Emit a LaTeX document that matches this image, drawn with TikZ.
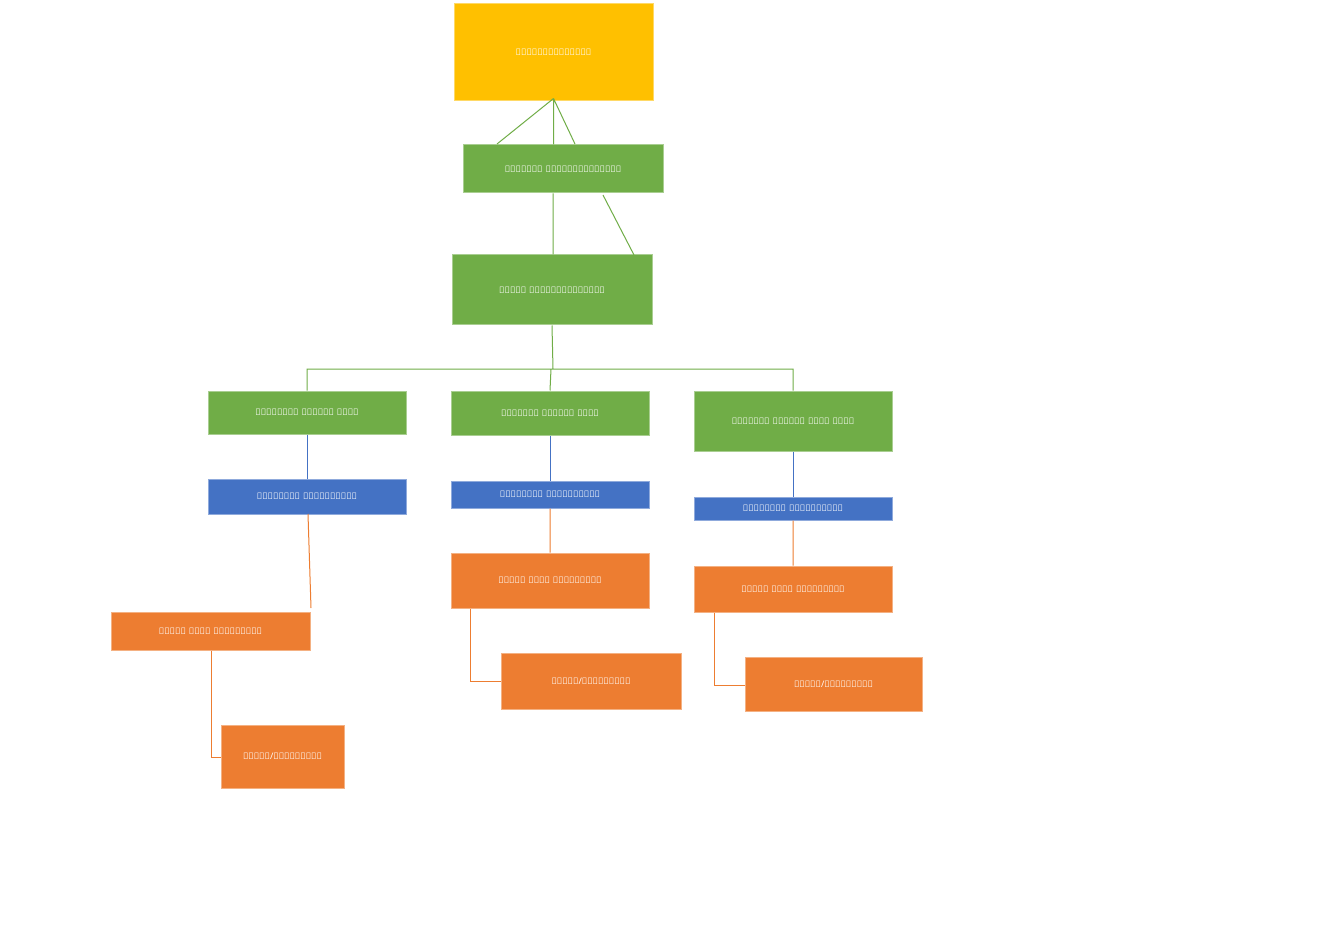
\documentclass[tikz,border=0pt]{standalone}
\usepackage{fontspec}
\setmainfont{Noto Sans}
\begin{document}
\begin{tikzpicture}[x=1pt,y=-1pt,
  box/.style={draw=#1!60!white,line width=1pt,fill=#1,text=white,font=\small,inner sep=0pt,align=center,text width=180pt},
  gline/.style={draw=green!50!black!60!lime,color={rgb,255:red,112;green,173;blue,71},line width=1pt},
  bline/.style={color={rgb,255:red,68;green,114;blue,196},line width=1pt},
  oline/.style={color={rgb,255:red,237;green,125;blue,49},line width=1pt}]
\definecolor{gold}{RGB}{255,192,0}
\definecolor{grn}{RGB}{112,173,71}
\definecolor{blu}{RGB}{68,114,196}
\definecolor{org}{RGB}{237,125,49}
\useasboundingbox (0,0) rectangle (1331,925);
\fill[white] (0,0) rectangle (1331,925);
\newcommand{\bx}[7]{\node[box=#6,minimum width=#3-#2,minimum height=#5-#4,text width=#3-#2-10] (#1) at ({(#2+#3)/2},{(#4+#5)/2}) {#7};}
\bx{top}{454}{653}{4}{101}{gold}{විදුහල්පතිතුමා}
\bx{dep}{463}{663}{145}{193}{grn}{නියෝජ්‍ය විදුහල්පතිතුමා}
\bx{ast}{452}{652}{255}{325}{grn}{සහකාර විදුහල්පතිතුමා}
\bx{s1}{208}{406}{391}{434}{grn}{ප්‍රාථමික අංශභාර භවතා}
\bx{s2}{451}{649}{391}{435}{grn}{ද්විතීක අංශභාර  භවතා}
\bx{s3}{694}{892}{391}{451}{grn}{ජ්‍යෙෂ්ට අංශභාර ගුරු භවතා}
\bx{c1}{208}{406}{479}{514}{blu}{පන්තිභාර ගුරුභවතුන්}
\bx{c2}{451}{649}{481}{508}{blu}{පන්තිභාර ගුරුභවතුන්}
\bx{c3}{694}{892}{497}{520}{blu}{පන්තිභාර ගුරුභවතුන්}
\bx{l1}{111}{310}{612}{650}{org}{ශිෂ්‍ය නායක නායිකාවක්}
\bx{l2}{451}{649}{553}{608}{org}{ශිෂ්‍ය නායක නායිකාවක්}
\bx{l3}{694}{892}{566}{612}{org}{ශිෂ්‍ය නායක නායිකාවක්}
\bx{p1}{221}{344}{725}{788}{org}{ශිෂ්‍ය/ශිෂ්‍යාවන්}
\bx{p2}{501}{681}{653}{709}{org}{ශිෂ්‍ය/ශිෂ්‍යාවන්}
\bx{p3}{745}{922}{657}{711}{org}{ශිෂ්‍ය/ශිෂ්‍යාවන්}
\coordinate (tb) at ([yshift=3]top.south);
\draw[gline] (tb) -- (497,144) (tb) -- (dep.north-|tb) (tb) -- (575,144);
\draw[gline] (dep.south-|553,0) -- (ast.north-|553,0) (603,195) -- (634,255);
\draw[gline] (ast.south) -- (553,369) (s1.north) |- (553,369) -| (s3.north) (s2.north) -- (551,369);
\draw[bline] (s1.south) -- (c1.north-|s1.south) (s2.south) -- (c2.north) (s3.south) -- (c3.north);
\draw[oline] (308,514) -- (311,608) (c2.south) -- (l2.north) (c3.south) -- (l3.north);
\draw[oline] (l1.south-|211,0) |- (p1.west|-0,757);
\draw[oline] (l2.south-|470,0) |- (p2.west|-0,681);
\draw[oline] (l3.south-|714,0) |- (p3.west|-0,685);
\end{tikzpicture}
\end{document}
